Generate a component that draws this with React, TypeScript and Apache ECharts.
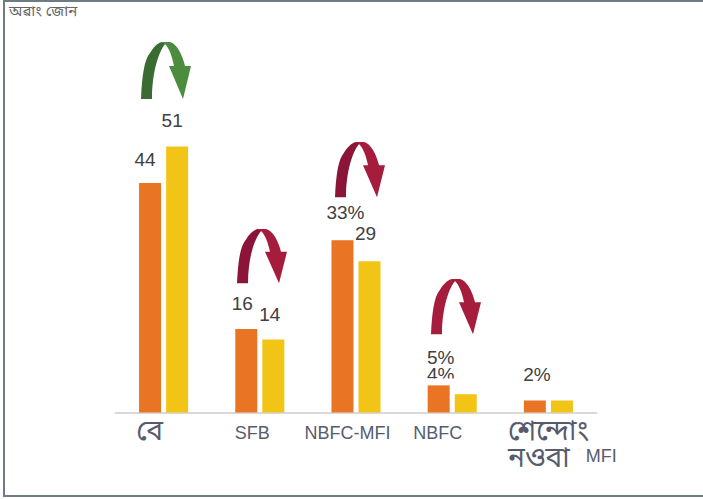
import React, { useEffect, useRef } from "react";
import * as echarts from "echarts";

const categories = ["বে", "SFB", "NBFC-MFI", "NBFC", "শেন্দোং\nনওবা MFI"];
const orangeValues = [44, 16, 33, 5.2, 2.3];
const yellowValues = [51, 14, 29, 3.5, 2.3];
const orangeLabels = ["44", "16", "33%", "5%", "2%"];
const yellowLabels = ["51", "14", "29", "4%", ""];
const titleText = "অৱাং জোন";

const orangeOffsets = [[-5, -14], [-4, -16], [3, -18], [2, -18], [2, -17]];
const yellowOffsets = [[-5, -16], [-3.5, -15], [-4, -18], [-25, -10], [0, 0]];

echarts.graphic.registerShape(
  "arcLeft",
  echarts.graphic.extendPath(
    "M0 57 C1 35 3 18 9 11 C12 6 16 1 21 0 L25 1 C18 8 11 30 11 57 Z",
    {}
  )
);
echarts.graphic.registerShape(
  "arcRight",
  echarts.graphic.extendPath(
    "M20 0 L29 0 C36 2 41 12 44 24 L50 24 L42 57 L28 24 L33 24 C31 14 28 6 24 2 Z",
    {}
  )
);

const arrow = (x: number, y: number, dark: string, light: string, sy = 1) => [
  { type: "arcLeft", x, y, scaleY: sy, style: { fill: dark }, z: 5 },
  { type: "arcRight", x, y, scaleY: sy, style: { fill: light }, z: 5 },
];

const catLabel = (v: string) => {
  if (v === categories[0]) return `{bnA|${v}}`;
  if (v === categories[1]) return `{enA|${v}}`;
  if (v === categories[2]) return `{enB|${v}}`;
  if (v === categories[3]) return `{enC|${v}}`;
  return `{sp| }{bnB|শেন্দোং}\n{sp| }{bnB|নওবা}{en|MFI}`;
};

export default function App() {
  const ref = useRef<HTMLDivElement>(null);
  useEffect(() => {
    document.body.style.margin = "0";
    const chart = echarts.init(ref.current!, null, { renderer: "svg" });
    const sans = "'Liberation Sans', Arial, sans-serif";
    const labelStyle = { fontFamily: sans, fontSize: 19, color: "#404040" };
    const labelColor = "#565c6e";
    chart.setOption({
      animation: false,
      backgroundColor: "#ffffff",
      grid: { left: 115.5, width: 481, top: 99.5, height: 313 },
      xAxis: {
        type: "category",
        data: categories,
        axisLine: { lineStyle: { color: "#d9d9d9", width: 2 } },
        axisTick: { show: false },
        axisLabel: {
          interval: 0,
          margin: 6,
          verticalAlign: "top",
          formatter: catLabel,
          rich: {
            bnA: { fontSize: 28, color: labelColor, padding: [0, 28, 0, 0], fontFamily: "'Noto Sans Bengali', sans-serif" },
            bnB: { fontSize: 28, color: labelColor, lineHeight: 27, align: "left", fontFamily: "'Noto Sans Bengali', sans-serif" },
            enA: { fontSize: 18, color: labelColor, fontFamily: sans, padding: [5, 15, 0, 0] },
            enB: { fontSize: 18, color: labelColor, fontFamily: sans, padding: [5, 17, 0, 0] },
            enC: { fontSize: 18, color: labelColor, fontFamily: sans, padding: [5, 29, 0, 0] },
            en: { fontSize: 18, color: labelColor, fontFamily: sans, width: 47, align: "right", padding: [0, 0, 6, 0] },
            sp: { fontSize: 10, width: 28, align: "left" },
          },
        },
      },
      yAxis: { type: "value", min: 0, max: 60, show: false },
      series: [
        {
          type: "bar",
          barWidth: 22,
          barGap: "23%",
          itemStyle: { color: "#e97423" },
          data: orangeValues.map((value, i) => ({
            value,
            label: {
              show: true,
              position: "top",
              distance: 0,
              offset: orangeOffsets[i],
              formatter: orangeLabels[i],
              ...labelStyle,
            },
          })),
        },
        {
          type: "bar",
          barWidth: 22,
          itemStyle: { color: "#f2c416" },
          data: yellowValues.map((value, i) => ({
            value,
            label: {
              show: yellowLabels[i] !== "",
              position: "top",
              distance: 0,
              offset: yellowOffsets[i],
              formatter: yellowLabels[i],
              ...labelStyle,
            },
          })),
        },
      ],
      graphic: [
        { type: "rect", shape: { x: 4, y: 1, width: 740, height: 495 }, style: { fill: "transparent", stroke: "#6d7b85", lineWidth: 2 }, z: 10 },
        { type: "text", x: 9, y: 4, style: { text: titleText, fontSize: 15, fill: "#666666", fontFamily: "'Noto Sans Bengali', sans-serif" }, z: 10 },
        ...arrow(141, 42, "#3a6b32", "#4b8c3f"),
        ...arrow(237, 229, "#8a1538", "#a61c3c", 0.95),
        ...arrow(335, 142, "#8a1538", "#a61c3c", 0.97),
        ...arrow(431, 279, "#a61c3c", "#a61c3c", 0.97),
        { type: "rect", shape: { x: 425, y: 378.5, width: 34, height: 6 }, style: { fill: "#ffffff" }, z: 20 },
      ],
    });
    return () => chart.dispose();
  }, []);
  return <div ref={ref} style={{ width: 703, height: 499, position: "absolute", left: 0, top: 0 }} />;
}
